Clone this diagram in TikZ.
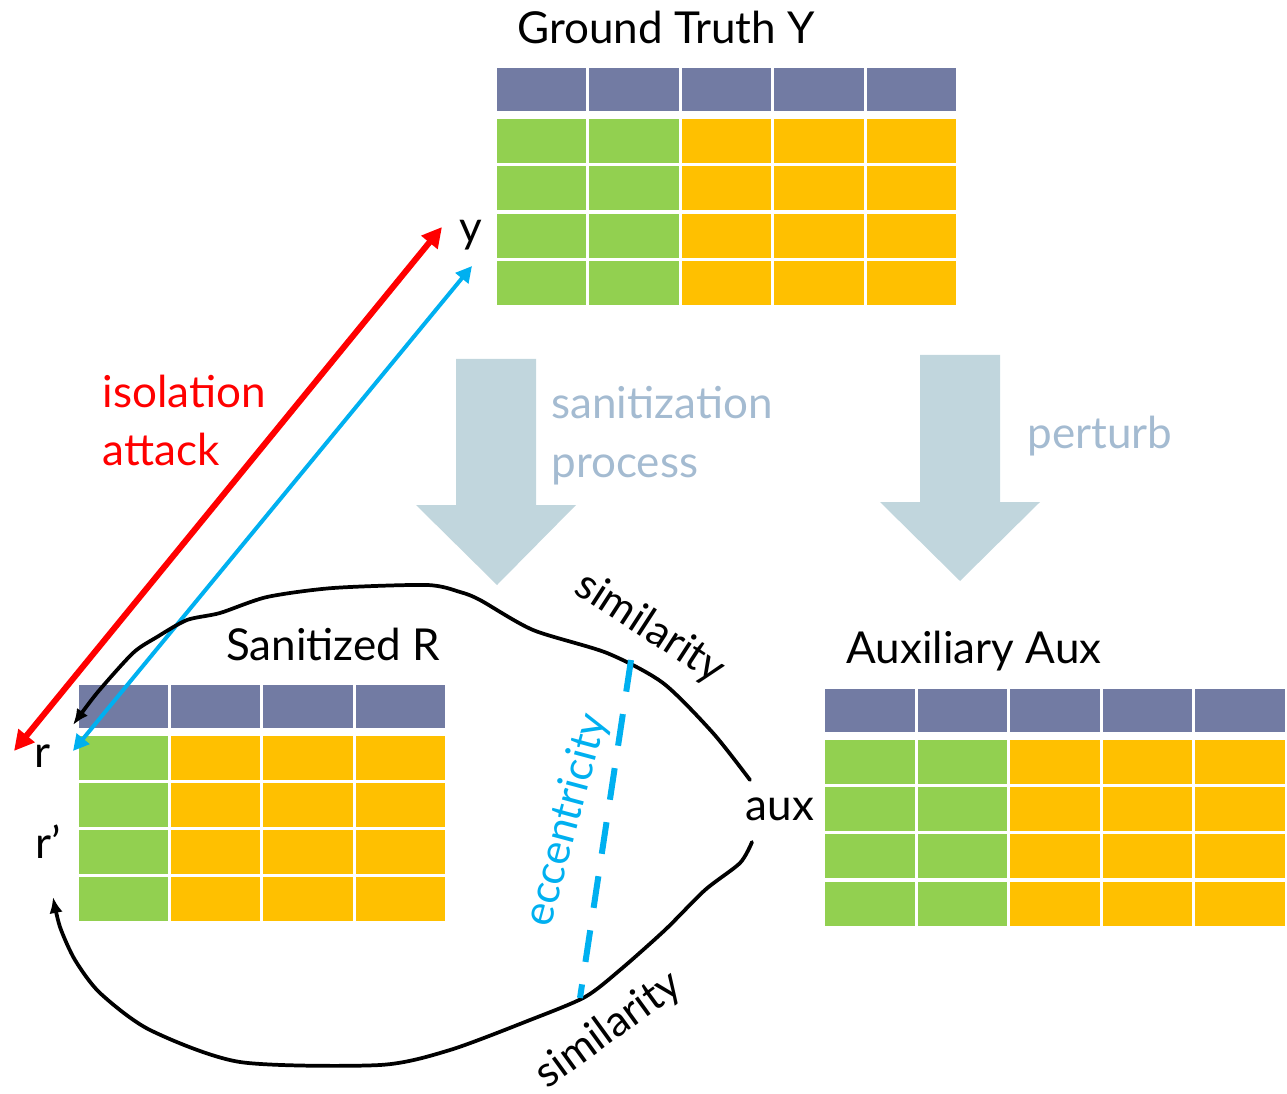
\documentclass[tikz,border=0pt]{standalone}
\usepackage{fontspec}
\setmainfont{Lato}
\usetikzlibrary{arrows.meta}

\definecolor{hdrBlue}{RGB}{114,123,163}
\definecolor{cellGreen}{RGB}{146,208,80}
\definecolor{cellYellow}{RGB}{255,192,0}
\definecolor{procGrey}{RGB}{193,214,221}
\definecolor{procText}{RGB}{164,187,209}
\definecolor{eccBlue}{RGB}{0,176,240}

\tikzset{every picture/.style={line width=0.75pt}}
\tikzset{
  lbl/.style={font=\fontsize{33}{40}\selectfont, inner sep=0pt, anchor=base},
  rotLbl/.style={font=\fontsize{32}{40}\selectfont, inner sep=0pt, anchor=center},
  hdr/.style={fill=hdrBlue},
  cellG/.style={fill=cellGreen},
  cellY/.style={fill=cellYellow},
  procArrow/.style={fill=procGrey},
  simLine/.style={line width=2.8pt, line join=round, line cap=round, -{Latex[length=12pt,width=10pt]}},
}

\begin{document}
\begin{tikzpicture}[x=0.75pt,y=0.75pt,yscale=-1,xscale=1]
\useasboundingbox (0,0) rectangle (1287,1094);

%Table: Ground Truth Y
\foreach \c/\col in {0/cellG,1/cellG,2/cellY,3/cellY,4/cellY} {
  \fill[hdr] ({497+\c*92.4},68) rectangle ++(89.4,43);
  \foreach \r in {0,...,3}
    \fill[\col] ({497+\c*92.4},{119+\r*47.3}) rectangle ++(89.4,44);
}
%Table: Sanitized R
\foreach \c/\col in {0/cellG,1/cellY,2/cellY,3/cellY} {
  \fill[hdr] ({79+\c*92.2},685) rectangle ++(89.2,43);
  \foreach \r in {0,...,3}
    \fill[\col] ({79+\c*92.2},{736+\r*47}) rectangle ++(89.2,44);
}
%Table: Auxiliary Aux
\foreach \c/\col in {0/cellG,1/cellG,2/cellY,3/cellY,4/cellY} {
  \fill[hdr] ({825+\c*92.6},689) rectangle ++(89.6,43);
  \foreach \r in {0,...,3}
    \fill[\col] ({825+\c*92.6},{740+\r*47.2}) rectangle ++(89.6,44);
}

%Shape: Block Arrow [sanitization]
\fill[procArrow] (456,359) -- (536,359) -- (536,505) -- (576,505) -- (497,585) -- (416,505) -- (456,505) -- cycle;
%Shape: Block Arrow [perturb]
\fill[procArrow] (920,355) -- (1000,355) -- (1000,502) -- (1040,502) -- (960,581) -- (880,502) -- (920,502) -- cycle;

% Text Node
\node[lbl] (gtTitle) at (666,44) {Ground Truth Y};
% Text Node
\node[lbl] (sanTitle) at (333,660) {Sanitized R};
% Text Node
\node[lbl] (auxTitle) at (974,663) {Auxiliary Aux};
% Text Node
\node[lbl] (yLbl) at (471,243) {y};
% Text Node
\node[lbl] (rLbl) at (43,767) {r};
% Text Node
\node[lbl] (rpLbl) at (48,858) {r’};
% Text Node
\node[lbl] (auxLbl) at (780,820) {aux};
% Text Node
\node[lbl, anchor=base west, text=red] (isoLbl) at (102,407) {isolation};
\node[lbl, anchor=base west, text=red] (atkLbl) at (102,465) {attack};
% Text Node
\node[lbl, anchor=base west, text=procText] (sanLbl) at (551,418) {sanitization};
\node[lbl, anchor=base west, text=procText] (procLbl) at (551,477) {process};
% Text Node
\node[lbl, anchor=base west, text=procText] (pertLbl) at (1027,448) {perturb};

%Straight Lines: isolation attack
\coordinate (redR) at (14,751);
\coordinate (redY) at (442,227);
\draw[red, line width=4.5pt, {Triangle[length=15pt,width=15pt]}-{Triangle[length=15pt,width=15pt]}] (redR) -- (redY);
%Straight Lines: matching
\coordinate (blueR) at (73,751);
\coordinate (blueY) at (472,266);
\draw[eccBlue, line width=3pt, {Triangle[length=12pt,width=12pt]}-{Triangle[length=12pt,width=12pt]}] (blueR) -- (blueY);

%Curve: similarity aux -> r
\draw[simLine] plot[smooth, tension=0.45] coordinates {(750,780) (713,733) (663,683) (607,653) (533,630) (480,600) (460,592) (427,585) (333,588) (267,597) (220,613) (187,620) (157,637) (133,653) (97,693) (73,725)};
%Curve: similarity aux -> r'
\draw[simLine] plot[smooth, tension=0.45] coordinates {(752,842) (740,863) (705,890) (665,930) (620,970) (585,997) (530,1020) (450,1050) (380,1065) (240,1062) (150,1030) (100,993) (75,960) (60,927) (53,897)};

%Straight Lines: eccentricity
\coordinate (eccTop) at (631,660);
\coordinate (eccBot) at (580,998);
\draw[eccBlue, line width=4.5pt, dash pattern={on 24pt off 17pt}] (eccTop) -- (eccBot);

% Text Node
\node[rotLbl, rotate=-33] (simTop) at (650,628) {similarity};
% Text Node
\node[rotLbl, rotate=36] (simBot) at (609,1030) {similarity};
% Text Node
\node[rotLbl, rotate=75, text=eccBlue] (eccLbl) at (567,820) {eccentricity};

\end{tikzpicture}
\end{document}
